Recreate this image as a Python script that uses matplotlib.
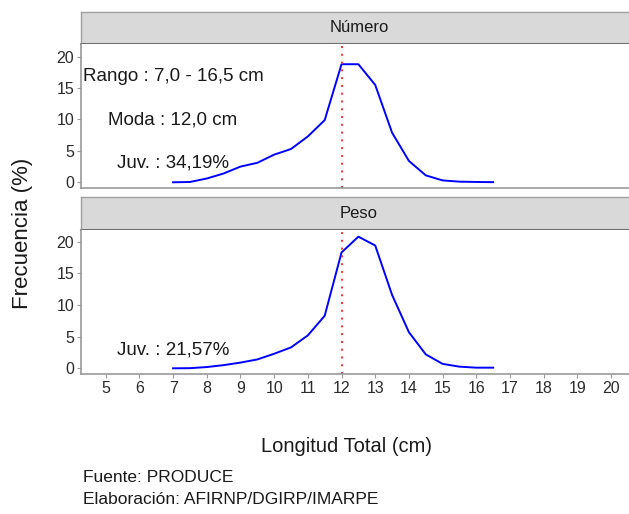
import numpy as np
import matplotlib
matplotlib.use("Agg")
import matplotlib.pyplot as plt

plt.rcParams["font.family"] = ["Liberation Sans Narrow", "Liberation Sans", "DejaVu Sans"]

# Datos: frecuencia (%) por talla
tallas = [7.0, 7.5, 8.0, 8.5, 9.0, 9.5, 10.0, 10.5, 11.0, 11.5, 12.0,
          12.5, 13.0, 13.5, 14.0, 14.5, 15.0, 15.5, 16.0, 16.5]
numero = [0.0, 0.05, 0.6, 1.4, 2.5, 3.1, 4.4, 5.3, 7.3, 9.9, 18.8,
          18.8, 15.5, 7.9, 3.4, 1.1, 0.3, 0.1, 0.05, 0.02]
peso = [0.0, 0.02, 0.2, 0.5, 0.9, 1.4, 2.3, 3.3, 5.2, 8.3, 18.3,
        20.8, 19.4, 11.6, 5.7, 2.2, 0.7, 0.26, 0.1, 0.1]
moda = 12.0
paneles = ["Número", "Peso"]
x_ticks = list(range(5, 21))
y_ticks = [0, 5, 10, 15, 20]

W, H = 629, 514
fig = plt.figure(figsize=(W / 100, H / 100), dpi=100)


def px(left, top, right, bottom):
    return [left / W, 1 - bottom / H, (right - left) / W, (bottom - top) / H]


axis_col = "#999999"
text_col = "#2B2B2B"


def strip(top, bottom, label):
    s = fig.add_axes(px(81, top, 637, bottom))
    s.set_facecolor("#D9D9D9")
    s.set_xticks([])
    s.set_yticks([])
    for sp in s.spines.values():
        sp.set_color("#A0A0A0")
        sp.set_linewidth(1.0)
    s.spines["bottom"].set_color("#707070")
    s.spines["bottom"].set_linewidth(1.5)
    s.text(0.5, 0.5, label, ha="center", va="center", fontsize=12,
           color="#1A1A1A", transform=s.transAxes)


def panel(top, bottom, y, ylim, show_x):
    ax = fig.add_axes(px(81, top, 637, bottom))
    ax.plot(tallas, y, color="#0000FF", lw=1.4)
    ax.axvline(moda, color="#FF3030", ls=(0, (1, 3)), lw=1.4)
    ax.set_xlim(4.267, 20.77)
    ax.set_ylim(*ylim)
    ax.set_xticks(x_ticks)
    ax.set_yticks(y_ticks)
    ax.tick_params(colors=axis_col, labelcolor=text_col, labelsize=11.5,
                   length=3, width=0.8, pad=2)
    if not show_x:
        ax.tick_params(axis="x", bottom=False, labelbottom=False)
    for side in ["top", "right"]:
        ax.spines[side].set_visible(False)
    for side in ["left", "bottom"]:
        ax.spines[side].set_color(axis_col)
        ax.spines[side].set_linewidth(1.2)
    return ax


strip(12, 44, paneles[0])
ax1 = panel(44, 188, numero, (-0.91, 22.02), False)
strip(197, 230, paneles[1])
ax2 = panel(230, 374, peso, (-0.9, 21.85), True)

ax1.text(4.33, 16.8, "Rango : 7,0 - 16,5 cm", fontsize=13.5, va="center", color="#1A1A1A")
ax1.text(5.07, 9.9, "Moda : 12,0 cm", fontsize=13.5, va="center", color="#1A1A1A")
ax1.text(5.34, 3.07, "Juv. : 34,19%", fontsize=13.5, va="center", color="#1A1A1A")
ax2.text(5.34, 2.9, "Juv. : 21,57%", fontsize=13.5, va="center", color="#1A1A1A")

fig.text(23 / W, 1 - 233 / H, "Frecuencia (%)", rotation=90, ha="center",
         va="center", fontsize=16, color="#1A1A1A")
fig.text(346 / W, 1 - 446 / H, "Longitud Total (cm)", ha="center",
         va="center", fontsize=14.5, color="#1A1A1A")
fig.text(83 / W, 1 - 478 / H, "Fuente: PRODUCE", ha="left", va="center",
         fontsize=12.5, color="#1A1A1A")
fig.text(83 / W, 1 - 500 / H, "Elaboración: AFIRNP/DGIRP/IMARPE", ha="left",
         va="center", fontsize=12.5, color="#1A1A1A")

fig.savefig("out.png", dpi=100)
